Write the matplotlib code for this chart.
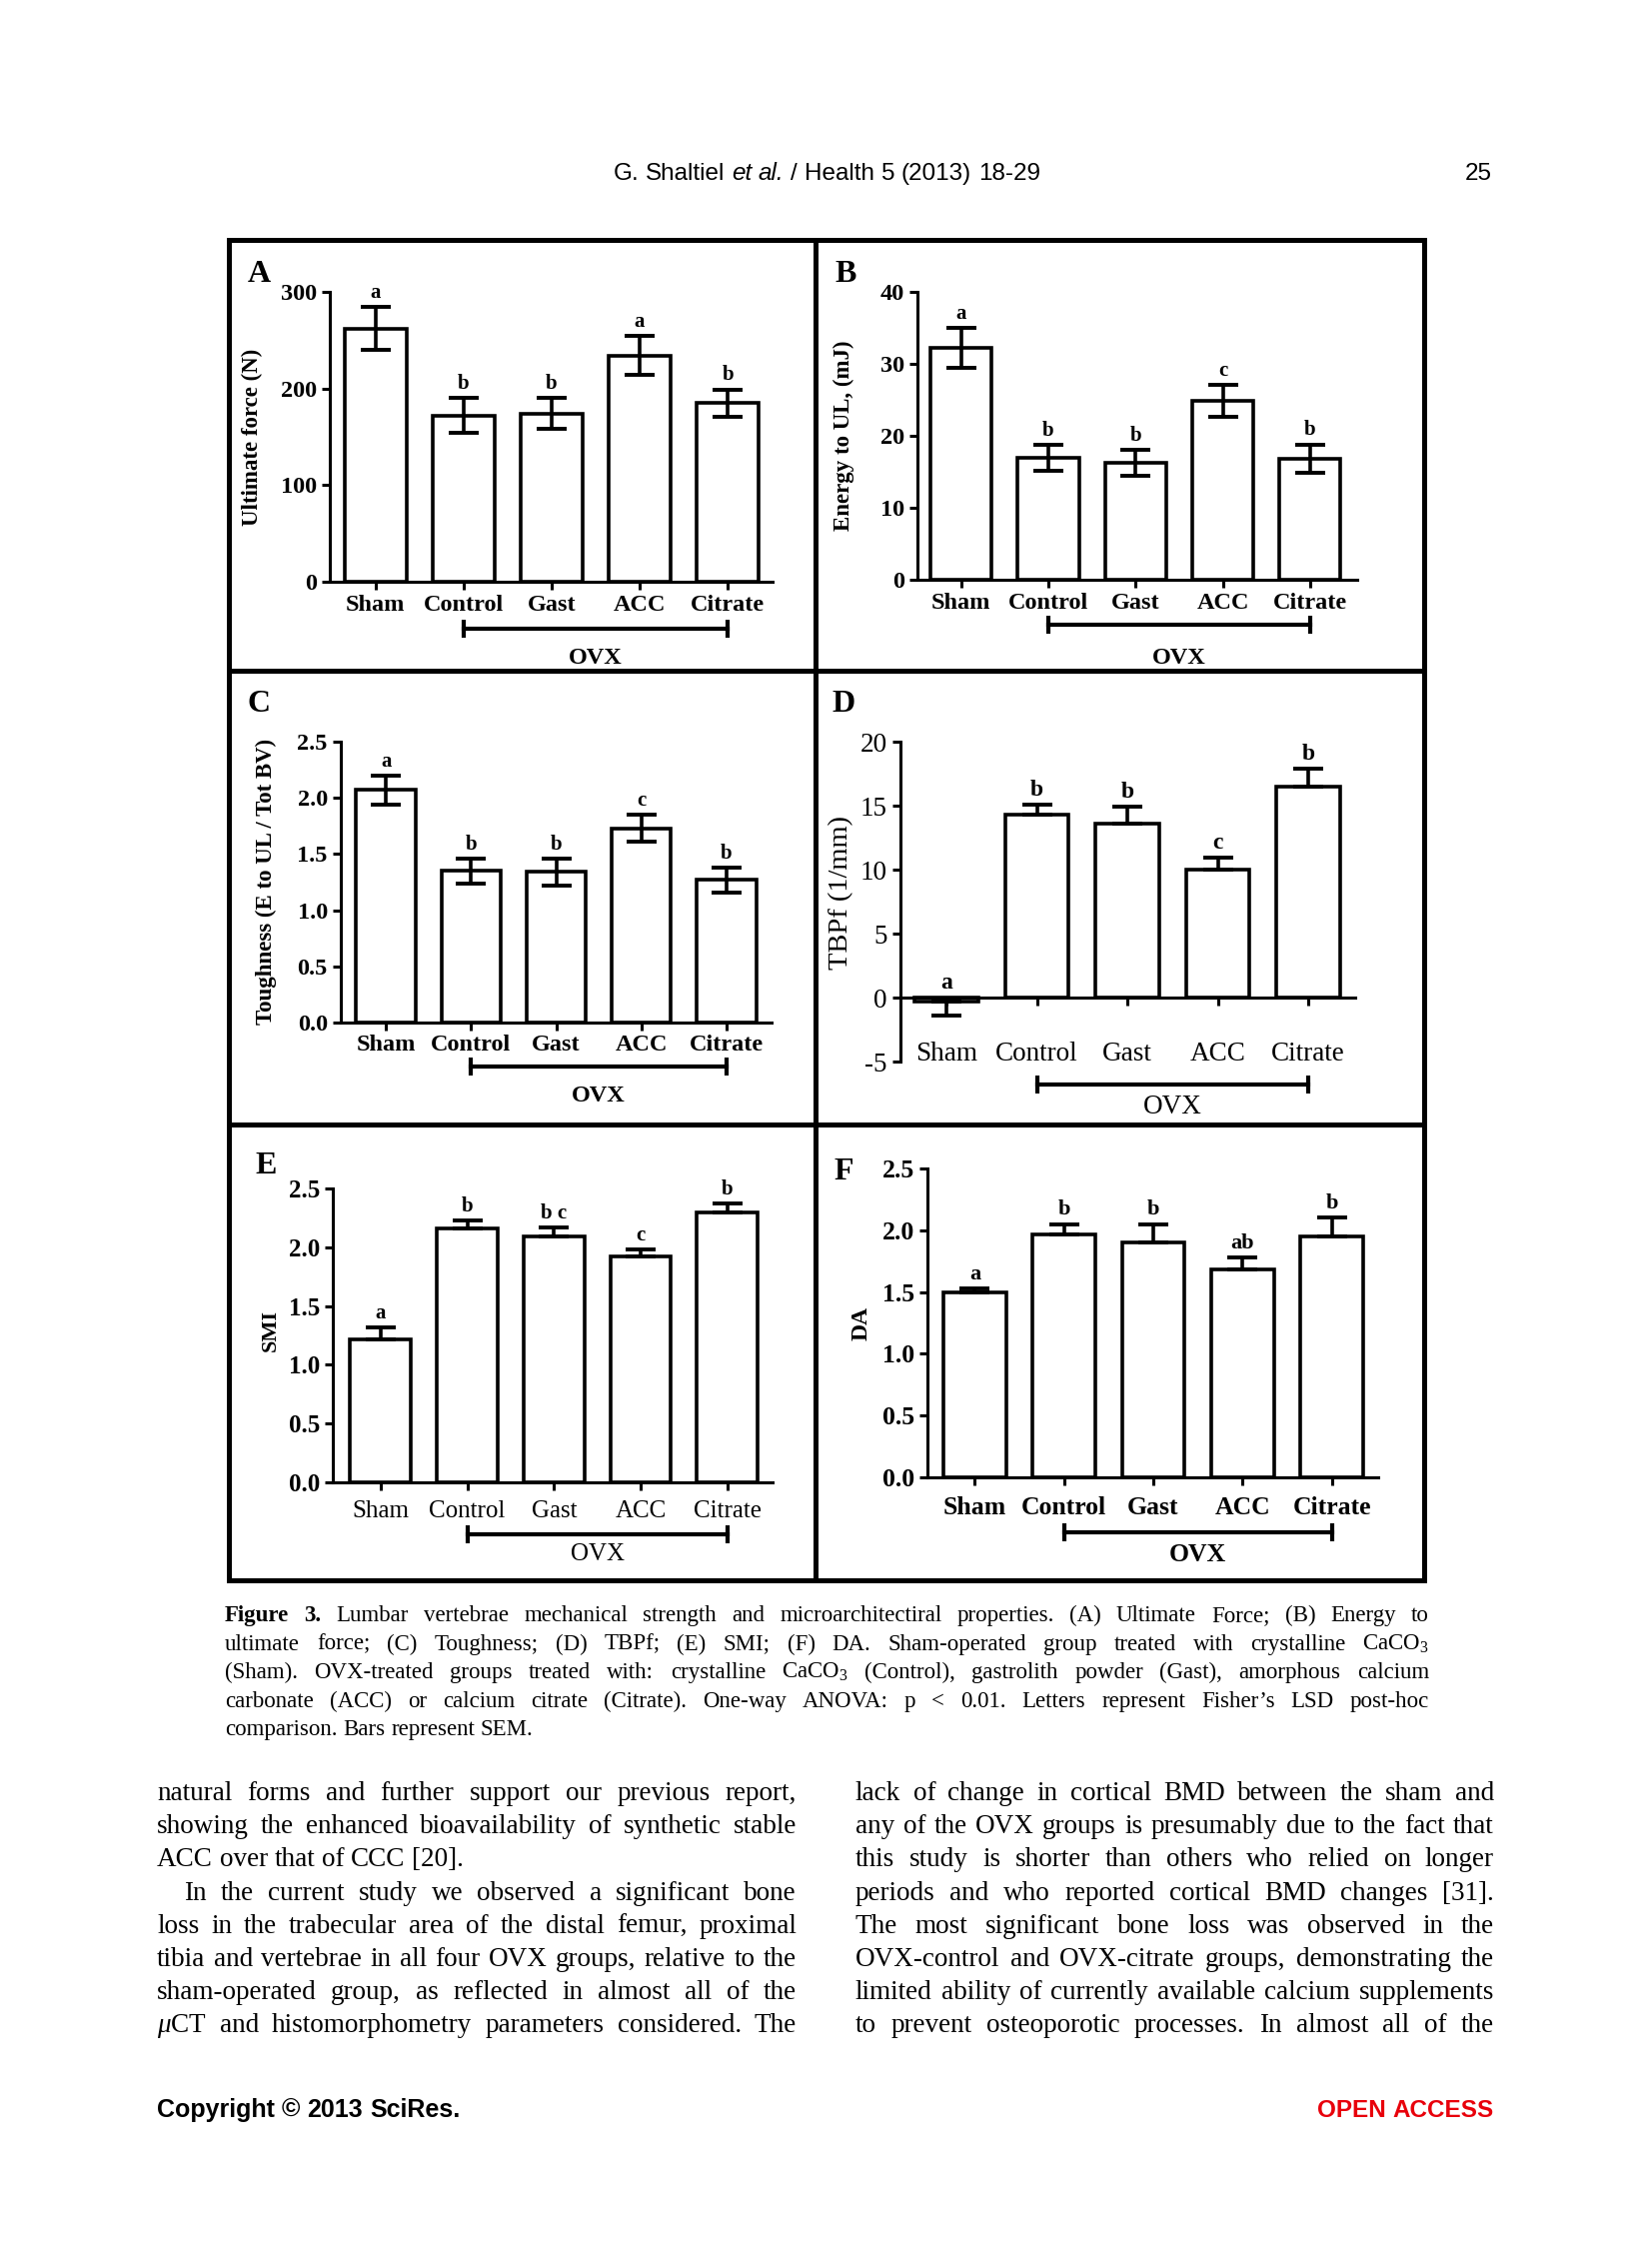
import numpy as np
import matplotlib.pyplot as plt
from matplotlib import transforms
from matplotlib.lines import Line2D

plt.rcParams['font.family'] = 'serif'
plt.rcParams['font.serif'] = ['Liberation Serif']
plt.rcParams['mathtext.fontset'] = 'custom'
plt.rcParams['mathtext.rm'] = 'Liberation Serif'
plt.rcParams['mathtext.it'] = 'Liberation Serif:italic'
plt.rcParams['mathtext.bf'] = 'Liberation Serif:bold'

W, H = 1653, 2244

# ==========================================
# Data (mean, SEM, post-hoc letters)
# ==========================================
groups = ['Sham', 'Control', 'Gast', 'ACC', 'Citrate']

force_mean = [262, 172, 174, 234, 185]
force_sem = [22, 18, 16, 20, 14]
force_letters = ['a', 'b', 'b', 'a', 'b']

energy_mean = [32.2, 16.9, 16.3, 24.9, 16.8]
energy_sem = [2.8, 1.8, 1.8, 2.2, 2.0]
energy_letters = ['a', 'b', 'b', 'c', 'b']

tough_mean = [2.07, 1.35, 1.34, 1.73, 1.27]
tough_sem = [0.13, 0.11, 0.12, 0.12, 0.11]
tough_letters = ['a', 'b', 'b', 'c', 'b']

tbpf_mean = [-0.3, 14.3, 13.6, 10.0, 16.5]
tbpf_sem = [1.1, 0.8, 1.3, 0.9, 1.4]
tbpf_letters = ['a', 'b', 'b', 'c', 'b']

smi_mean = [1.22, 2.16, 2.09, 1.92, 2.30]
smi_sem = [0.10, 0.07, 0.08, 0.06, 0.07]
smi_letters = ['a', 'b', 'b c', 'c', 'b']

da_mean = [1.50, 1.97, 1.90, 1.68, 1.95]
da_sem = [0.03, 0.08, 0.15, 0.10, 0.15]
da_letters = ['a', 'b', 'b', 'ab', 'b']

header_words = ['G.', 'Shaltiel', 'et', 'al.', '/', 'Health', '5', '(2013)', '18-29']

caption_lines = [
    "Figure 3. Lumbar vertebrae mechanical strength and microarchitectiral properties. (A) Ultimate Force; (B) Energy to",
    "ultimate force; (C) Toughness; (D) TBPf; (E) SMI; (F) DA. Sham-operated group treated with crystalline CaCO$_3$",
    "(Sham). OVX-treated groups treated with: crystalline CaCO$_3$ (Control), gastrolith powder (Gast), amorphous calcium",
    "carbonate (ACC) or calcium citrate (Citrate). One-way ANOVA: p < 0.01. Letters represent Fisher\u2019s LSD post-hoc",
    "comparison. Bars represent SEM.",
]

left_lines = [
    "natural forms and further support our previous report,",
    "showing the enhanced bioavailability of synthetic stable",
    "ACC over that of CCC [20].",
    "In the current study we observed a significant bone",
    "loss in the trabecular area of the distal femur, proximal",
    "tibia and vertebrae in all four OVX groups, relative to the",
    "sham-operated group, as reflected in almost all of the",
    "$\\mu$CT and histomorphometry parameters considered. The",
]

right_lines = [
    "lack of change in cortical BMD between the sham and",
    "any of the OVX groups is presumably due to the fact that",
    "this study is shorter than others who relied on longer",
    "periods and who reported cortical BMD changes [31].",
    "The most significant bone loss was observed in the",
    "OVX-control and OVX-citrate groups, demonstrating the",
    "limited ability of currently available calcium supplements",
    "to prevent osteoporotic processes. In almost all of the",
]

fig = plt.figure(figsize=(W / 100, H / 100), dpi=100)
renderer = fig.canvas.get_renderer()


def fx(x):
    return x / W


def fy(y):
    return 1 - y / H


# ==========================================
# Panels
# ==========================================
panels = [
    dict(tag='A', mean=force_mean, sem=force_sem, letters=force_letters,
         ylim=(0, 300), yticks=[0, 100, 200, 300], fmt='{:.0f}',
         ylabel='Ultimate force (N)', two_sided=True,
         box=(330, 292, 773, 582), xlim=(-0.52, 4.51), pad=3.5,
         bracket=629, ovx=658, tagpos=(259, 275), ylabpos=(252, 437),
         size=17.5, tick_w='bold', cat_w='bold', lab_size=16.5, lab_w='bold', let_size=15),
    dict(tag='B', mean=energy_mean, sem=energy_sem, letters=energy_letters,
         ylim=(0, 40), yticks=[0, 10, 20, 30, 40], fmt='{:.0f}',
         ylabel='Energy to UL, (mJ)', two_sided=True,
         box=(918, 292, 1358, 580), xlim=(-0.5, 4.54), pad=3.5,
         bracket=625, ovx=658, tagpos=(846, 275), ylabpos=(844, 436),
         size=17.5, tick_w='bold', cat_w='bold', lab_size=16.5, lab_w='bold', let_size=15),
    dict(tag='C', mean=tough_mean, sem=tough_sem, letters=tough_letters,
         ylim=(0, 2.5), yticks=[0, 0.5, 1.0, 1.5, 2.0, 2.5], fmt='{:.1f}',
         ylabel='Toughness (E to UL / Tot BV)', two_sided=True,
         box=(341, 742, 772, 1023), xlim=(-0.53, 4.53), pad=3,
         bracket=1067, ovx=1097, tagpos=(259, 704), ylabpos=(266, 882),
         size=17.5, tick_w='bold', cat_w='bold', lab_size=16.5, lab_w='bold', let_size=15),
    dict(tag='D', mean=tbpf_mean, sem=tbpf_sem, letters=tbpf_letters,
         ylim=(-5, 20), yticks=[-5, 0, 5, 10, 15, 20], fmt='{:.0f}',
         ylabel='TBPf (1/mm)', two_sided=False,
         box=(901, 742, 1356, 1062), xlim=(-0.51, 4.52), pad=26,
         bracket=1085, ovx=1107, tagpos=(844, 704), ylabpos=(842, 893),
         size=19.5, tick_w='normal', cat_w='normal', lab_size=20.5, lab_w='normal', let_size=17),
    dict(tag='E', mean=smi_mean, sem=smi_sem, letters=smi_letters,
         ylim=(0, 2.5), yticks=[0, 0.5, 1.0, 1.5, 2.0, 2.5], fmt='{:.1f}',
         ylabel='SMI', two_sided=False,
         box=(333, 1189, 773, 1483), xlim=(-0.55, 4.52), pad=7,
         bracket=1535, ovx=1555, tagpos=(266, 1167), ylabpos=(271, 1331),
         size=18, tick_w='bold', cat_w='normal', lab_size=16, lab_w='bold', let_size=15),
    dict(tag='F', mean=da_mean, sem=da_sem, letters=da_letters,
         ylim=(0, 2.5), yticks=[0, 0.5, 1.0, 1.5, 2.0, 2.5], fmt='{:.1f}',
         ylabel='DA', two_sided=False,
         box=(928, 1169, 1379, 1478), xlim=(-0.53, 4.52), pad=8,
         bracket=1533, ovx=1555, tagpos=(844, 1172), ylabpos=(862, 1324),
         size=18.5, tick_w='bold', cat_w='bold', lab_size=17, lab_w='bold', let_size=16),
]

for p in panels:
    l, t, r, b = p['box']
    ax = fig.add_axes([fx(l), fy(b), (r - l) / W, (b - t) / H])
    mean = np.array(p['mean'])
    sem = np.array(p['sem'])
    x = np.arange(len(groups))
    if p['two_sided']:
        yerr = [sem, sem]
    else:
        # one-sided SEM, pointing away from zero
        yerr = [np.where(mean < 0, sem, 0), np.where(mean < 0, 0, sem)]

    ax.bar(x, mean, width=0.7, color='white', edgecolor='black', linewidth=2.6, zorder=2)
    ax.errorbar(x, mean, yerr=yerr, fmt='none', ecolor='black', elinewidth=2.6,
                capsize=11, capthick=2.8, zorder=3)

    tops = np.maximum(mean + yerr[1], 0)
    for xi, top, let in zip(x, tops, p['letters']):
        ax.annotate(let, (xi, top), xytext=(0, 3), textcoords='offset points',
                    ha='center', va='bottom', fontsize=p['let_size'], fontweight='bold')

    # spine position first: moving it resets the tick labels
    ax.spines[['top', 'right']].set_visible(False)
    ax.spines['bottom'].set_position(('data', 0))
    for s in ('left', 'bottom'):
        ax.spines[s].set_linewidth(2.2)

    ax.set_xlim(p['xlim'])
    ax.set_ylim(p['ylim'])
    ax.set_yticks(p['yticks'])
    ax.set_yticklabels([p['fmt'].format(v) for v in p['yticks']],
                       fontsize=p['size'], fontweight=p['tick_w'])
    ax.set_xticks(x)
    ax.set_xticklabels(groups, fontsize=p['size'], fontweight=p['cat_w'])
    ax.tick_params(axis='both', width=2.2, length=6, direction='out')
    ax.tick_params(axis='x', pad=p['pad'])
    ax.patch.set_visible(False)

    # OVX bracket under Control..Citrate
    trans = transforms.blended_transform_factory(ax.transData, fig.transFigure)
    ax.plot([1, 4], [fy(p['bracket'])] * 2, transform=trans, color='black', lw=3,
            marker='|', ms=13, mew=3, clip_on=False)
    ax.text(2.5, fy(p['ovx']), 'OVX', transform=trans, ha='center', va='center',
            fontsize=p['size'], fontweight=p['cat_w'])

    fig.text(fx(p['tagpos'][0]), fy(p['tagpos'][1]), p['tag'], fontsize=23,
             fontweight='bold', ha='center', va='center')
    fig.text(fx(p['ylabpos'][0]), fy(p['ylabpos'][1]), p['ylabel'], rotation=90,
             fontsize=p['lab_size'], fontweight=p['lab_w'], ha='center', va='center')

# panel frame
frame_x = [229, 816, 1425]
frame_y = [240, 671, 1125, 1581]
for xv in frame_x:
    fig.add_artist(Line2D([fx(xv)] * 2, [fy(frame_y[0]), fy(frame_y[-1])], color='black', lw=3.6))
for yv in frame_y:
    fig.add_artist(Line2D([fx(frame_x[0]), fx(frame_x[-1])], [fy(yv)] * 2, color='black', lw=3.6))


# ==========================================
# Page text
# ==========================================
def put_words(words, x0, x1, y, size, family, justify=True, styles=None,
              align='left', color='black'):
    styles = styles or [{}] * len(words)
    texts = [fig.text(0, fy(y), w, fontsize=size, family=family, va='baseline',
                      color=color, **st) for w, st in zip(words, styles)]
    widths = [t.get_window_extent(renderer).width for t in texts]
    a = fig.text(0, 0, 'x x', fontsize=size, family=family)
    c = fig.text(0, 0, 'xx', fontsize=size, family=family)
    space = a.get_window_extent(renderer).width - c.get_window_extent(renderer).width
    a.remove()
    c.remove()
    if justify and len(words) > 1:
        gap = (x1 - x0 - sum(widths)) / (len(words) - 1)
    else:
        gap = space
    total = sum(widths) + gap * (len(words) - 1)
    if align == 'center':
        xpos = (x0 + x1) / 2 - total / 2
    elif align == 'right':
        xpos = x1 - total
    else:
        xpos = x0
    for t, w in zip(texts, widths):
        t.set_x(fx(xpos))
        xpos += w + gap


sans = 'Liberation Sans'
serif = 'Liberation Serif'

head_styles = [{}] * len(header_words)
head_styles[2] = {'style': 'italic'}
head_styles[3] = {'style': 'italic'}
put_words(header_words, 607, 1047, 180, 17.5, sans, justify=False,
          styles=head_styles, align='center')
put_words(['25'], 1400, 1493, 180, 17.5, sans, justify=False, align='right')

for i, line in enumerate(caption_lines):
    words = line.split(' ')
    styles = [{}] * len(words)
    if i == 0:
        styles[0] = {'fontweight': 'bold'}
        styles[1] = {'fontweight': 'bold'}
    put_words(words, 225, 1430, 1622 + i * 28.6, 16.5, serif,
              justify=i < len(caption_lines) - 1, styles=styles)

for i, line in enumerate(left_lines):
    x0 = 184 if i == 3 else 157
    put_words(line.split(' '), x0, 797, 1801 + i * 33.2, 19.5, serif, justify=i != 2)
for i, line in enumerate(right_lines):
    put_words(line.split(' '), 856, 1495, 1801 + i * 33.2, 19.5, serif)

put_words(['Copyright', '\u00a9', '2013', 'SciRes.'], 157, 700, 2118, 18, sans,
          justify=False, styles=[{'fontweight': 'bold'}] * 4)
put_words(['OPEN', 'ACCESS'], 1100, 1495, 2118, 17.5, sans, justify=False,
          styles=[{'fontweight': 'bold'}] * 2, align='right', color='#E8000B')

fig.savefig('out.png', dpi=100)
